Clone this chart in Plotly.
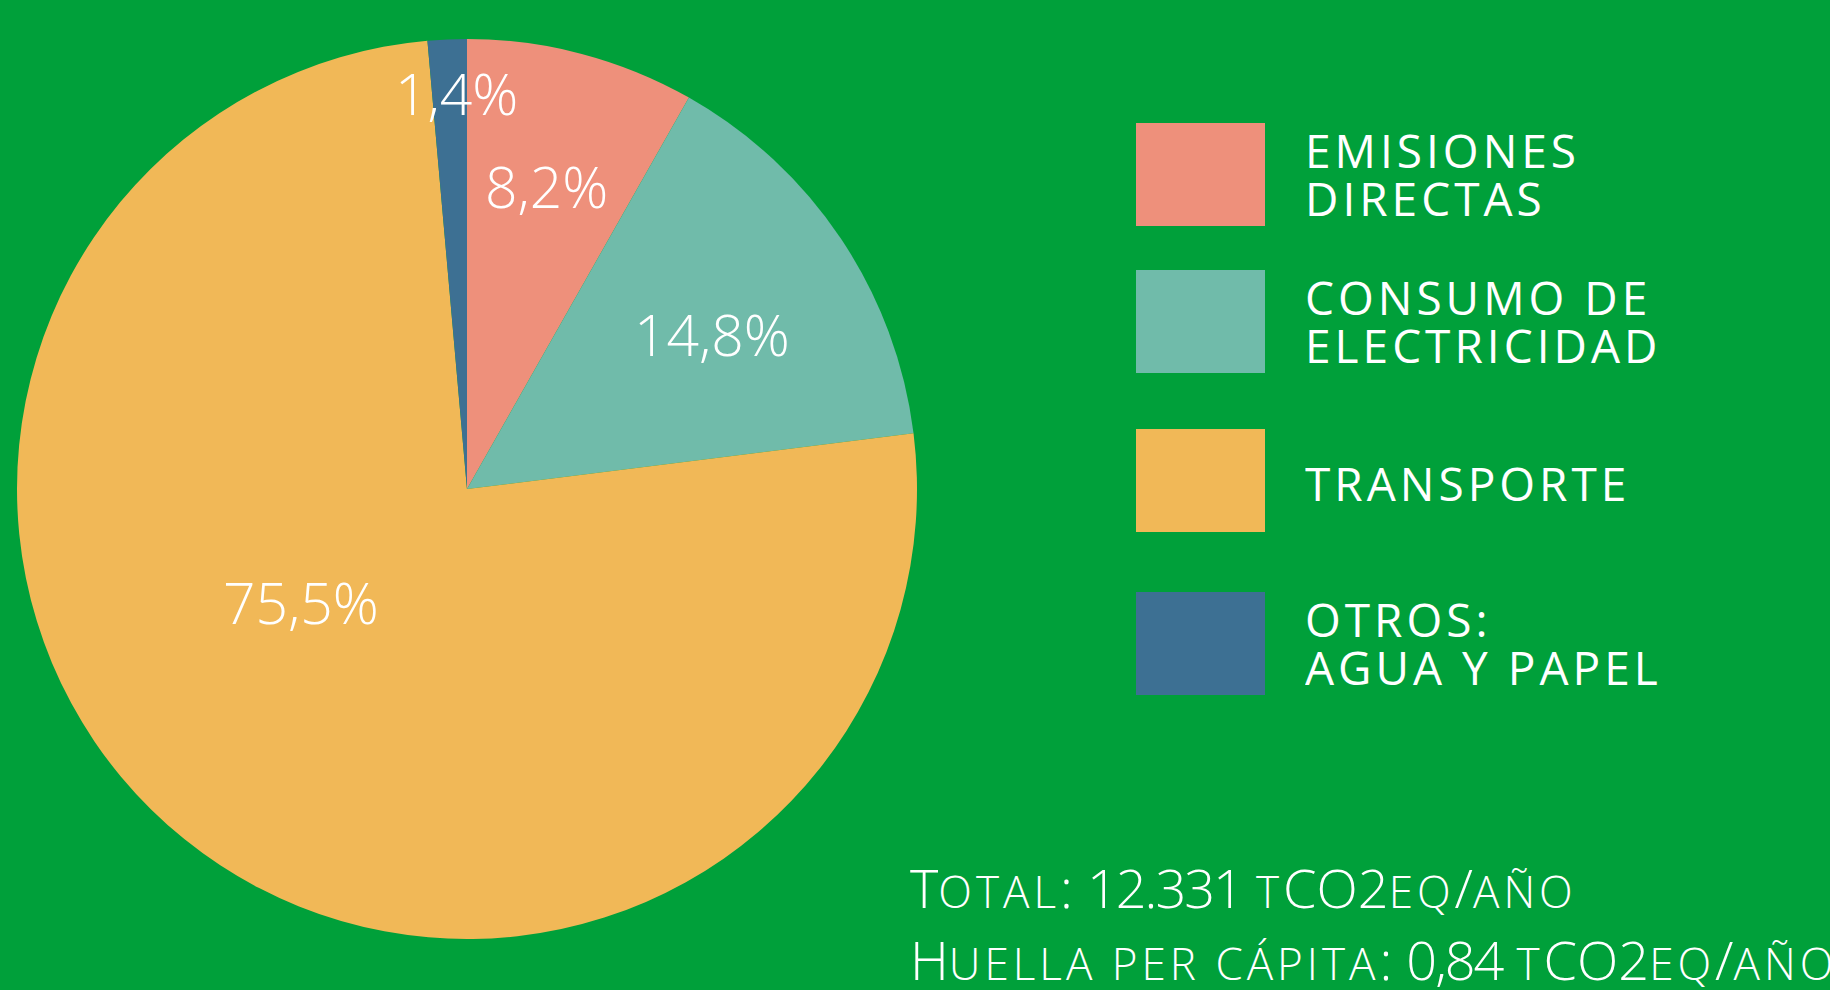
import math
import plotly.graph_objects as go

# ---- data ----
categories = ["EMISIONES DIRECTAS", "CONSUMO DE ELECTRICIDAD", "TRANSPORTE", "OTROS: AGUA Y PAPEL"]
legend_lines = [["EMISIONES", "DIRECTAS"], ["CONSUMO DE", "ELECTRICIDAD"], ["TRANSPORTE"], ["OTROS:", "AGUA Y PAPEL"]]
values = [8.2, 14.8, 75.5, 1.4]
colors = ["#EE907B", "#70BBAA", "#F1B857", "#3D7093"]
total_value = "12.331"
per_capita_value = "0,84"

# ---- layout constants ----
W, H = 1830, 990
BG = "#00A03A"
CX, CY, R = 467, 489, 450  # pie centre / radius in pixels

def px(x):
    return x / W

def py(y):
    return 1 - y / H

# label placement styles (radius fraction, angle shift in degrees)
label_r = [0.69, 0.64, 0.45, 0.873]
label_shift = [0, 2, 16, 1]

fig = go.Figure()
fig.add_trace(go.Pie(
    labels=categories,
    values=values,
    marker=dict(colors=colors, line=dict(width=0)),
    sort=False,
    direction="clockwise",
    rotation=0,
    textinfo="none",
    hoverinfo="label+percent",
    showlegend=False,
    domain=dict(x=[px(CX - R), px(CX + R)], y=[py(CY + R), py(CY - R)]),
))

annotations = []
shapes = []

# percentage labels computed from the data
total = sum(values)
cum = 0.0
for i, v in enumerate(values):
    mid = (cum + v / 2) / total * 360 + label_shift[i]
    cum += v
    a = math.radians(mid)
    lx = CX + label_r[i] * R * math.sin(a)
    ly = CY - label_r[i] * R * math.cos(a)
    annotations.append(dict(
        x=px(lx), y=py(ly - 3), xref="paper", yref="paper",
        text=f"{v:.1f}".replace(".", ",") + "%",
        showarrow=False, xanchor="center", yanchor="middle",
        font=dict(family="Open Sans, Noto Sans, sans-serif", size=57, color="white", weight=300),
    ))

# custom legend
sq_top = [123, 270, 429, 592]
sq_h = 103
sq_x0, sq_x1 = 1136, 1265
text_x = 1303
for i, lines in enumerate(legend_lines):
    shapes.append(dict(type="rect", xref="paper", yref="paper",
                       x0=px(sq_x0), x1=px(sq_x1), y0=py(sq_top[i] + sq_h), y1=py(sq_top[i]),
                       fillcolor=colors[i], line=dict(width=0)))
    centre = sq_top[i] + sq_h / 2 - 1
    n = len(lines)
    for j, ln in enumerate(lines):
        yy = centre + (j - (n - 1) / 2) * 48 + (3 if n == 1 else 0)
        annotations.append(dict(
            x=px(text_x), y=py(yy), xref="paper", yref="paper",
            text=f"<span style='letter-spacing:4px'>{ln}</span>",
            showarrow=False, xanchor="left", yanchor="middle", height=46,
            font=dict(family="Open Sans, Noto Sans, sans-serif", size=46, color="white"),
        ))

# footer text with small caps
SC = 44
def sc(t):
    return f"<span style='font-size:{SC}px;letter-spacing:4px'>{t}</span>"

def num(t):
    return f"<span style='letter-spacing:-2px'>{t}</span>"

line1 = "T" + sc("OTAL") + ": " + num(total_value) + " " + sc("T") + "CO2" + sc("EQ") + "/" + sc("AÑO")
line2 = "H" + sc("UELLA PER CÁPITA") + ": " + num(per_capita_value) + " " + sc("T") + "CO2" + sc("EQ") + "/" + sc("AÑO")
for txt, yy in [(line1, 887), (line2, 959)]:
    annotations.append(dict(
        x=px(908), y=py(yy), xref="paper", yref="paper",
        text=txt, showarrow=False, xanchor="left", yanchor="middle",
        font=dict(family="Open Sans, Noto Sans, sans-serif", size=54, color="white", weight=300),
    ))

fig.update_layout(
    width=W, height=H,
    margin=dict(l=0, r=0, t=0, b=0),
    paper_bgcolor=BG, plot_bgcolor=BG,
    annotations=annotations, shapes=shapes,
    showlegend=False,
)

fig.write_html("out.html")
